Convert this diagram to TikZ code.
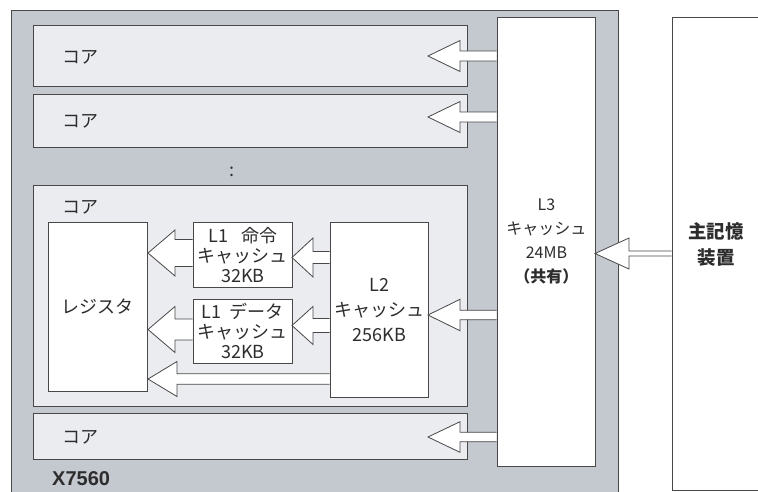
\documentclass[tikz,border=0pt]{standalone}
\usepackage{fontspec}
\setmainfont{Liberation Sans}
\newfontfamily\jp{Noto Sans CJK JP}
\usetikzlibrary{calc}

\definecolor{chipgray}{RGB}{196,200,207}
\definecolor{corefill}{RGB}{235,236,240}
\definecolor{linec}{RGB}{72,72,72}
\definecolor{textc}{RGB}{45,45,45}

\tikzset{
  box/.style={draw=linec, line width=0.8pt, inner sep=0pt, anchor=north west},
  chipbox/.style={box, fill=chipgray},
  corebox/.style={box, fill=corefill},
  unitbox/.style={box, fill=white, align=center, text=textc,
    font=\jp\fontsize{18}{20}\selectfont},
  lbl/.style={inner sep=0pt, text=textc, font=\jp\fontsize{18}{21}\selectfont},
  % hollow arrow: shaft half height / head half height / head length
  blockarrow/.style n args={3}{fill=white, draw=linec, line width=0.8pt,
    to path={let \p1=(\tikztostart), \p2=(\tikztotarget) in
      (\x1-0.4pt,\y1+#1pt) -- (\x2+#3pt,\y1+#1pt) -- (\x2+#3pt,\y1+#2pt)
      -- (\x2,\y1) -- (\x2+#3pt,\y1-#2pt) -- (\x2+#3pt,\y1-#1pt)
      -- (\x1-0.4pt,\y1-#1pt)}}
}

\begin{document}
\begin{tikzpicture}[x=1pt,y=-1pt]
  \useasboundingbox (0,0) rectangle (758,491);
  \clip (0,0) rectangle (758,491);

  % chip and cores
  \node[chipbox, minimum width=607pt, minimum height=490pt] (chip) at (11,10) {};
  \node[corebox, minimum width=434pt, minimum height=61pt] (core1) at (33,25) {};
  \node[corebox, minimum width=434pt, minimum height=53pt] (core2) at (33,94) {};
  \node[corebox, minimum width=434pt, minimum height=221pt] (core3) at (33,185) {};
  \node[corebox, minimum width=434pt, minimum height=46pt] (core4) at (33,413) {};

  \node[lbl, anchor=west] (core1lbl) at (62,57) {コア};
  \node[lbl, anchor=west] (core2lbl) at (62,121) {コア};
  \node[lbl, anchor=west] (core3lbl) at (62,207) {コア};
  \node[lbl, anchor=west] (core4lbl) at (62,437) {コア};
  \node[lbl] (dots) at (232,172) {:};
  \node[inner sep=0pt, anchor=west, text=textc, font=\bfseries\fontsize{20}{22}\selectfont]
    (chiplbl) at (52,479) {X7560};

  % units inside the core
  \node[unitbox, minimum width=99pt, minimum height=169pt] (reg) at (48,222) {レジスタ};
  \node[unitbox, minimum width=99pt, minimum height=65pt] (l1i) at (193,222)
    {L1\hspace{0.7em}命令\\キャッシュ\\32KB};
  \node[unitbox, minimum width=99pt, minimum height=64pt] (l1d) at (193,299)
    {L1\hspace{0.45em}データ\\キャッシュ\\32KB};
  \node[unitbox, minimum width=98pt, minimum height=175pt,
    font=\jp\fontsize{18}{25}\selectfont] (l2) at (330,222)
    {L2\\キャッシュ\\256KB};

  % shared cache and memory
  \node[unitbox, minimum width=98pt, minimum height=449pt,
    font=\jp\fontsize{16}{24}\selectfont] (l3) at (497,17)
    {L3\\キャッシュ\\24MB\\{\bfseries （共有）}};
  \node[box, fill=white, minimum width=110pt, minimum height=473pt] (mem) at (672,17) {};
  \node[inner sep=0pt, align=center, text=textc,
    font=\jp\bfseries\fontsize{18.5}{26}\selectfont] (memlbl) at (716,244) {主記憶\\装置};

  % arrow tips
  \coordinate (c1tip) at (428,56);
  \coordinate (c2tip) at (428,117);
  \coordinate (l2tip) at (428,315);
  \coordinate (c4tip) at (428,437);
  \coordinate (l3tip) at (595,253.5);
  \coordinate (l1itip) at (292,257.5);
  \coordinate (l1dtip) at (292,325.5);
  \coordinate (regitip) at (148,253);
  \coordinate (regdtip) at (148,329.5);
  \coordinate (regltip) at (148,379);

  \draw[blockarrow={5}{15.5}{32}] (l3.west |- c1tip) to (c1tip);
  \draw[blockarrow={5}{15.5}{32}] (l3.west |- c2tip) to (c2tip);
  \draw[blockarrow={4.7}{15.7}{32}] (l3.west |- l2tip) to (l2tip);
  \draw[blockarrow={4.7}{15.3}{32}] (l3.west |- c4tip) to (c4tip);
  \draw[blockarrow={2.5}{15.5}{34}] (mem.west |- l3tip) to (l3tip);
  \draw[blockarrow={6}{19.5}{21}] (l2.west |- l1itip) to (l1itip);
  \draw[blockarrow={7}{19}{21}] (l2.west |- l1dtip) to (l1dtip);
  \draw[blockarrow={13.5}{23}{27}] (l1i.west |- regitip) to (regitip);
  \draw[blockarrow={10.5}{23}{27}] (l1d.west |- regdtip) to (regdtip);
  \draw[blockarrow={5.3}{17.5}{29}] (l2.west |- regltip) to (regltip);
\end{tikzpicture}
\end{document}
